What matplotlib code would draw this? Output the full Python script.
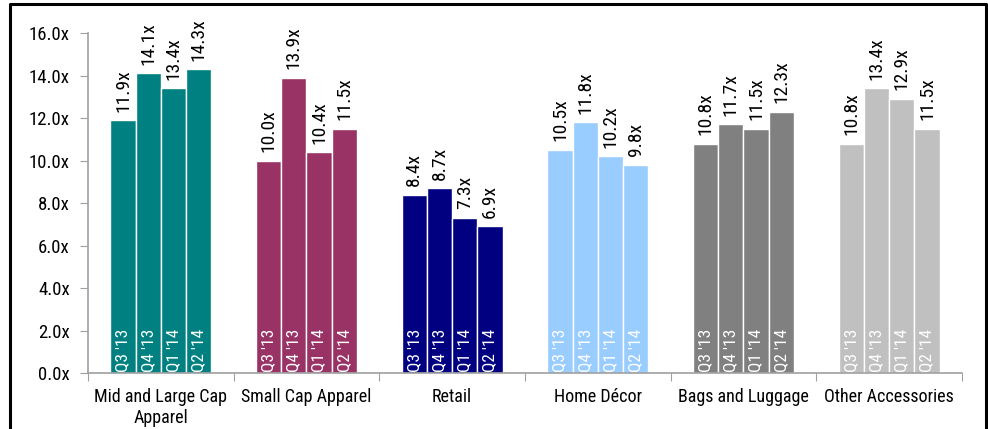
import numpy as np
import matplotlib.pyplot as plt
from matplotlib.lines import Line2D

plt.rcParams['font.family'] = ['Liberation Sans Narrow', 'Roboto Condensed',
                               'Liberation Sans', 'DejaVu Sans']

# data
groups = ['Mid and Large Cap\nApparel', 'Small Cap Apparel', 'Retail',
          'Home Décor', 'Bags and Luggage', 'Other Accessories']
quarters = ["Q3 '13", "Q4 '13", "Q1 '14", "Q2 '14"]
values = [
    [11.9, 14.1, 13.4, 14.3],
    [10.0, 13.9, 10.4, 11.5],
    [8.4, 8.7, 7.3, 6.9],
    [10.5, 11.8, 10.2, 9.8],
    [10.8, 11.7, 11.5, 12.3],
    [10.8, 13.4, 12.9, 11.5],
]
colors = ['#008080', '#993366', '#000080', '#99CCFF', '#808080', '#C0C0C0']
yticks = [0, 2, 4, 6, 8, 10, 12, 14, 16]

fig = plt.figure(figsize=(9.88, 4.29), dpi=100)
ax = fig.add_axes([0.089, 0.1305, 0.8847, 0.7925])

bw = 0.173
offsets = (np.arange(4) - 1.5) * bw
for g, (vals, col) in enumerate(zip(values, colors)):
    xs = g + 0.5 + offsets
    ax.bar(xs, vals, width=bw, color=col, edgecolor='white', linewidth=1.0)
    for x, v, q in zip(xs, vals, quarters):
        ax.text(x, v + 0.4, f'{v:.1f}x', rotation=90, ha='center', va='bottom',
                fontsize=14, color='black')
        ax.text(x, 0.04, q, rotation=90, ha='center', va='bottom',
                fontsize=12.5, color='white')

ax.set_xlim(0, 6)
ax.set_ylim(0, 16)
ax.set_yticks(yticks)
ax.set_yticklabels([f'{t:.1f}x' for t in yticks], fontsize=13.5)
ax.set_xticks(np.arange(0, 7))
ax.set_xticklabels([])
ax.set_xticks(np.arange(6) + 0.5, minor=True)
ax.set_xticklabels(groups, minor=True, fontsize=13, linespacing=1.2)
ax.tick_params(axis='x', which='minor', length=0, pad=11)
ax.tick_params(axis='x', which='major', length=6, direction='out', color='#A0A0A0')
ax.tick_params(axis='y', length=6, direction='out', color='#A0A0A0', pad=7)

for s in ['top', 'right']:
    ax.spines[s].set_visible(False)
for s in ['left', 'bottom']:
    ax.spines[s].set_color('#A0A0A0')
    ax.spines[s].set_linewidth(1.2)

# outer frame (left, top, right)
fx = [9.5 / 988, 9.5 / 988, 985.5 / 988, 985.5 / 988]
fy = [0.0, 1 - 4 / 429, 1 - 4 / 429, 0.0]
fig.add_artist(Line2D(fx, fy, transform=fig.transFigure, color='black', linewidth=2.2))

plt.savefig('out.png', dpi=100, facecolor='white')
